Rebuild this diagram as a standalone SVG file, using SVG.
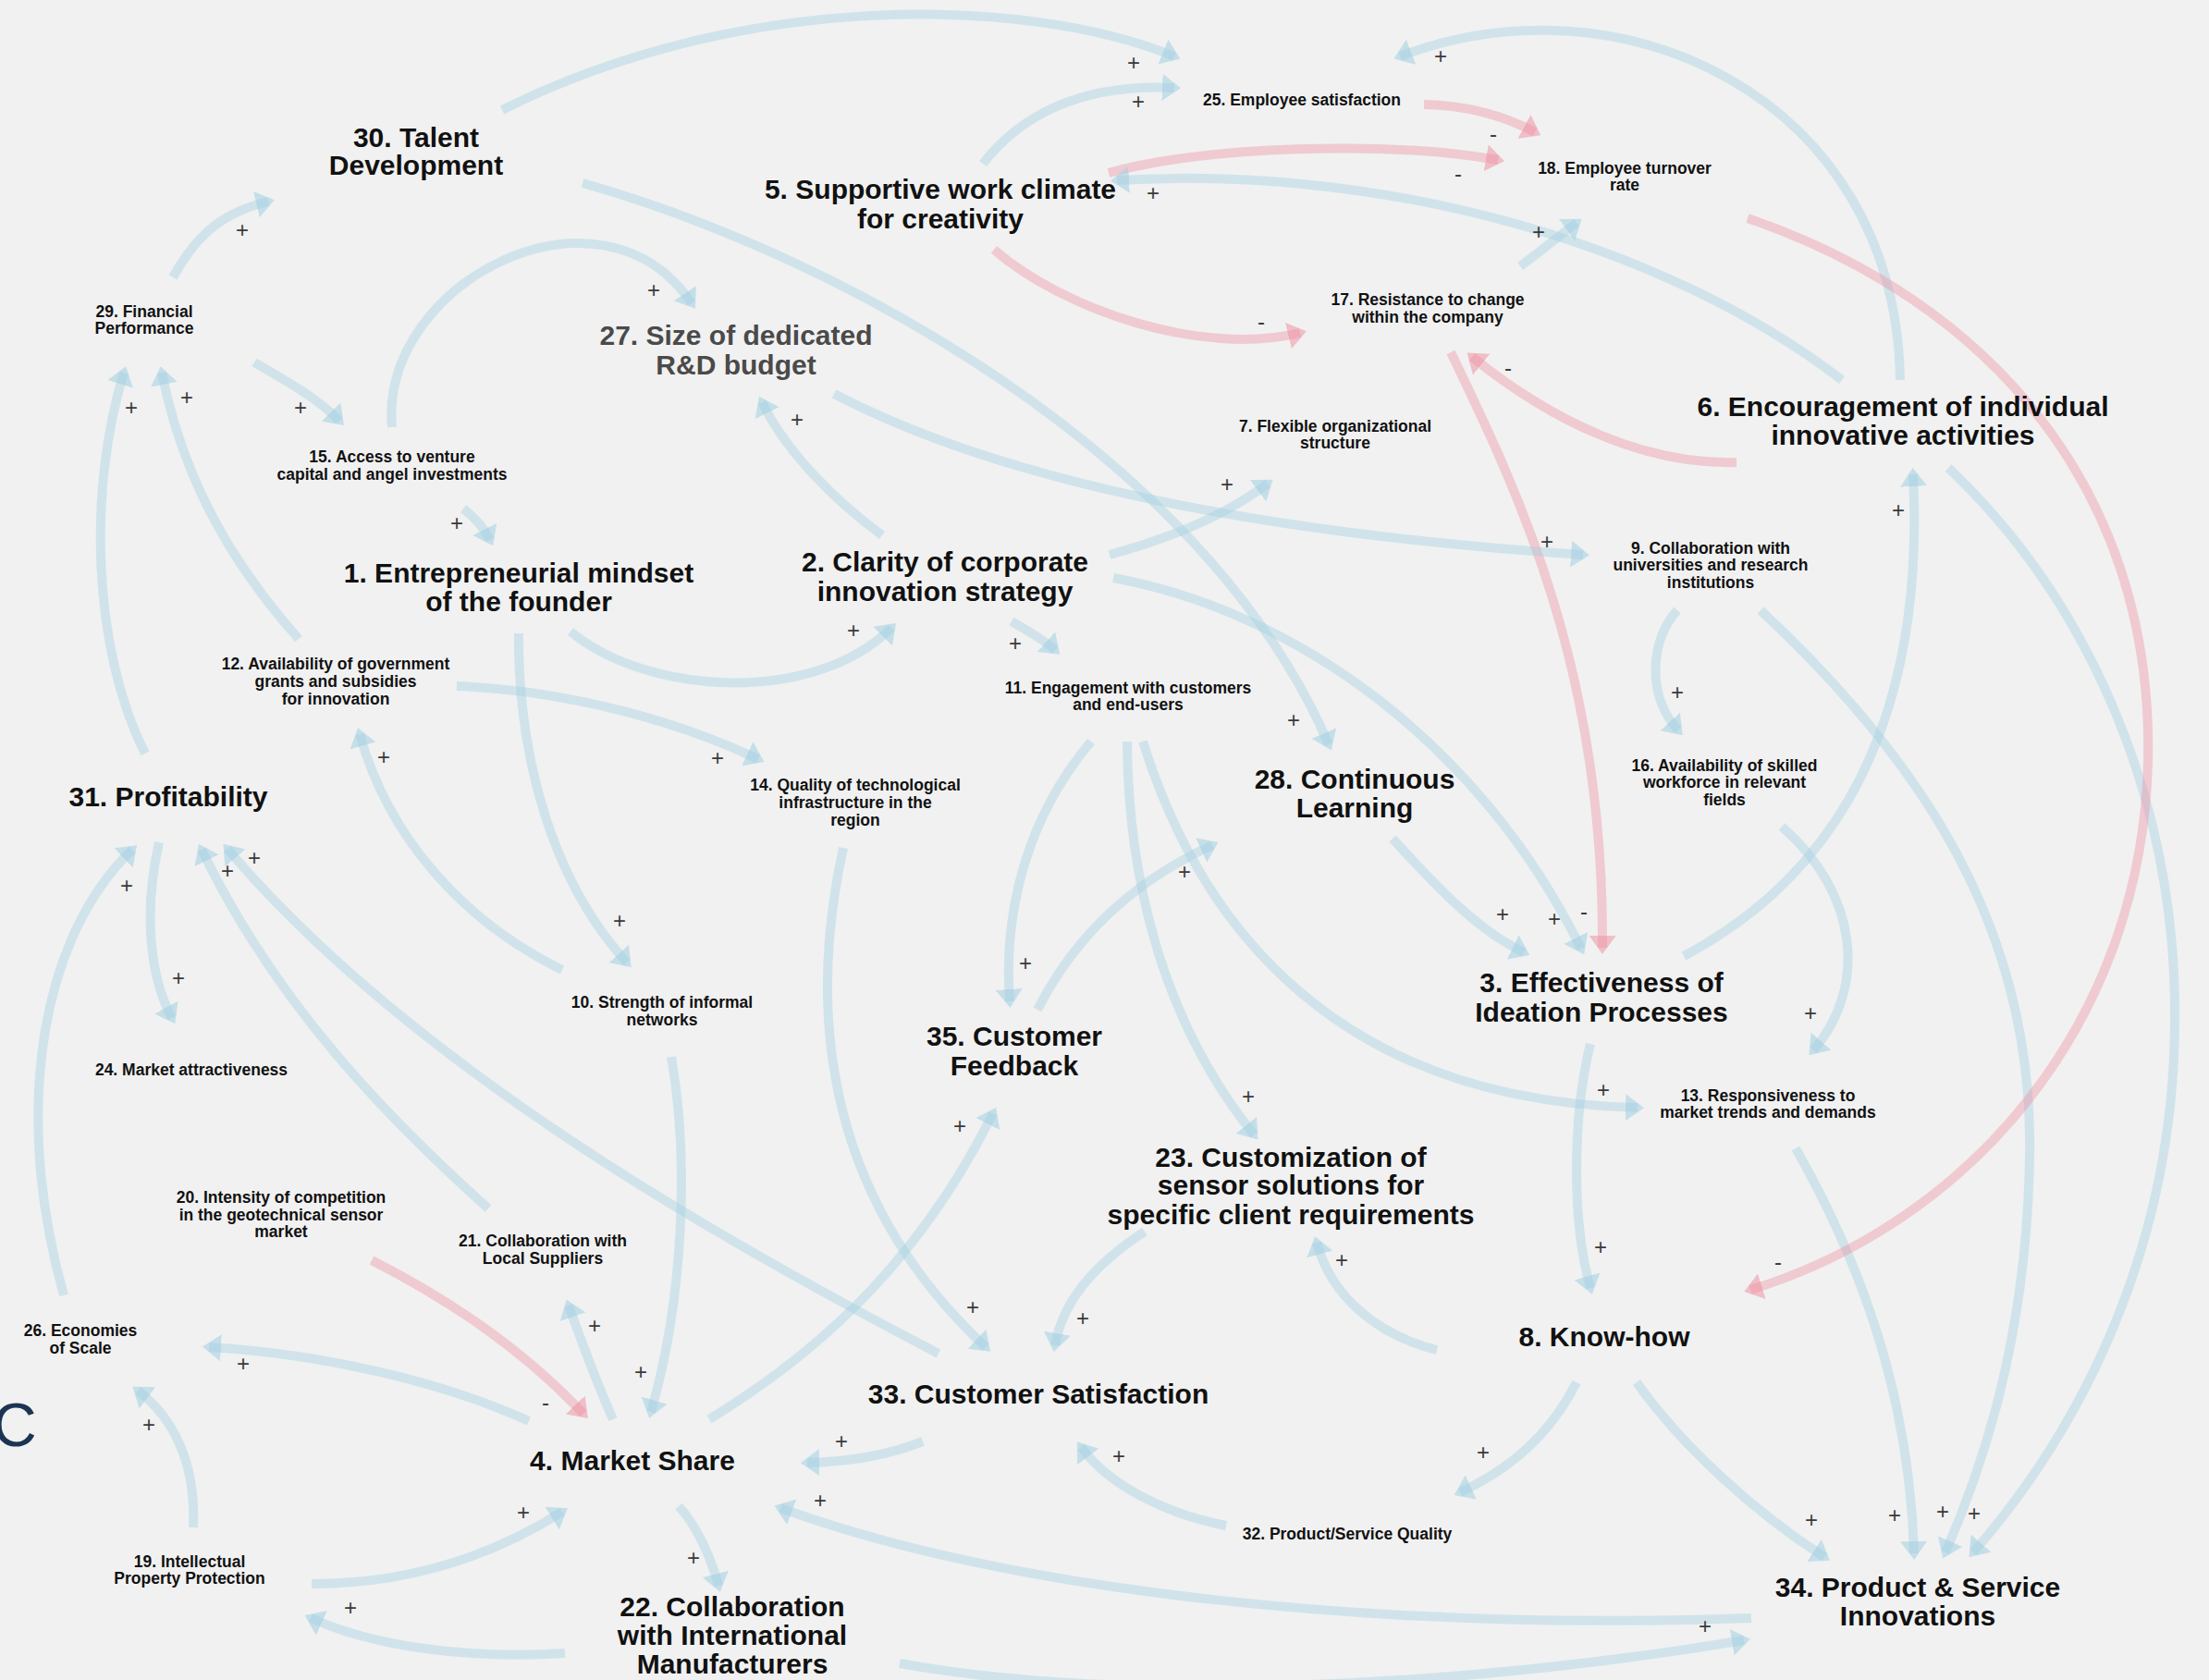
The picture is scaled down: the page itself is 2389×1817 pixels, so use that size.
<svg xmlns="http://www.w3.org/2000/svg" width="2389" height="1817" viewBox="0 0 2389 1817">
<defs>
<style>
.n{font-family:"Liberation Sans",Arial,sans-serif;font-weight:bold;fill:#111;text-anchor:middle}
.L{font-size:30px}
.S{font-size:17.5px}
.gray{fill:#4a4a4a}
.c path{fill:none;stroke-width:10}
.b{stroke:rgb(160,208,226);stroke-opacity:0.4;marker-end:url(#ab)}
.p{stroke:rgb(238,140,158);stroke-opacity:0.38;marker-end:url(#ap)}
.sg{font-family:"Liberation Sans",Arial,sans-serif;font-size:24px;fill:#3a3a3a;text-anchor:middle}
</style>
<marker id="ab" viewBox="0 0 20 29" refX="13" refY="14.5" markerWidth="20" markerHeight="29" markerUnits="userSpaceOnUse" orient="auto"><path d="M0,0 L20,14.5 L0,29 z" fill="rgb(160,208,226)" fill-opacity="0.55"/></marker>
<marker id="ap" viewBox="0 0 20 29" refX="13" refY="14.5" markerWidth="20" markerHeight="29" markerUnits="userSpaceOnUse" orient="auto"><path d="M0,0 L20,14.5 L0,29 z" fill="rgb(238,140,158)" fill-opacity="0.5"/></marker>
</defs>
<rect width="2389" height="1817" fill="#f1f1f1"/>
<text x="-8" y="1564" font-family="Liberation Sans, Arial, sans-serif" font-size="66" fill="#1b3452">C</text>

<g id="connectors" class="c">
<path class="b" d="M543,119 C800,-10 1110,-5 1270,61"/>
<path class="b" d="M1063,177 C1110,117 1180,91 1270,95"/>
<path class="p" d="M1540,113 C1590,114 1630,127 1660,143"/>
<path class="p" d="M1199,187 C1300,158 1500,152 1620,173"/>
<path class="b" d="M1992,411 C1800,264 1500,178 1208,195"/>
<path class="b" d="M1644,288 C1670,269 1690,252 1705,241"/>
<path class="b" d="M2055,411 C2050,102 1750,-30 1514,61"/>
<path class="p" d="M1075,270 C1150,335 1300,386 1406,360"/>
<path class="p" d="M1878,500 C1780,503 1680,457 1592,386"/>
<path class="p" d="M1569,381 C1640,529 1735,722 1733,1025"/>
<path class="b" d="M1821,1034 C1950,966 2085,824 2069,513"/>
<path class="b" d="M2107,506 C2250,641 2355,854 2352,1108 C2350,1352 2250,1546 2134,1679"/>
<path class="b" d="M1904,660 C2080,824 2200,1007 2195,1251 C2192,1454 2140,1596 2104,1679"/>
<path class="b" d="M1942,1242 C2010,1362 2065,1505 2070,1680"/>
<path class="b" d="M1770,1495 C1820,1566 1900,1637 1973,1684"/>
<path class="b" d="M1705,1495 C1680,1545 1640,1586 1579,1614"/>
<path class="b" d="M1554,1460 C1490,1444 1440,1403 1424,1344"/>
<path class="b" d="M1720,1129 C1700,1210 1700,1322 1720,1393"/>
<path class="b" d="M1236,802 C1300,1007 1450,1190 1771,1198"/>
<path class="b" d="M1219,802 C1220,956 1260,1108 1356,1227"/>
<path class="b" d="M1122,1092 C1160,1017 1220,956 1311,914"/>
<path class="b" d="M630,198 C900,274 1300,488 1437,805"/>
<path class="b" d="M1927,894 C2010,966 2020,1068 1961,1136"/>
<path class="b" d="M1814,660 C1785,691 1780,752 1815,790"/>
<path class="b" d="M902,426 C1100,529 1400,579 1712,600"/>
<path class="b" d="M1200,600 C1270,581 1330,554 1371,523"/>
<path class="b" d="M954,579 C900,539 850,488 824,435"/>
<path class="b" d="M617,683 C700,752 880,763 964,679"/>
<path class="b" d="M1094,672 C1115,684 1130,693 1141,703"/>
<path class="b" d="M494,742 C620,747 740,783 820,821"/>
<path class="b" d="M561,685 C560,824 600,956 678,1041"/>
<path class="b" d="M608,1049 C500,996 420,905 389,794"/>
<path class="b" d="M323,691 C260,620 200,529 175,403"/>
<path class="b" d="M157,815 C100,702 95,529 134,403"/>
<path class="b" d="M172,911 C155,986 162,1057 186,1101"/>
<path class="b" d="M69,1401 C10,1190 50,1007 143,919"/>
<path class="b" d="M528,1307 C420,1210 300,1088 218,919"/>
<path class="b" d="M1015,1464 C800,1352 450,1159 246,918"/>
<path class="p" d="M402,1363 C480,1403 560,1454 631,1529"/>
<path class="b" d="M663,1535 C645,1495 630,1454 615,1412"/>
<path class="b" d="M726,1143 C745,1251 740,1403 704,1527"/>
<path class="b" d="M767,1535 C900,1454 1000,1352 1074,1204"/>
<path class="b" d="M912,917 C870,1108 900,1302 1066,1457"/>
<path class="b" d="M1238,1332 C1190,1363 1150,1403 1141,1455"/>
<path class="b" d="M998,1559 C960,1574 920,1581 873,1582"/>
<path class="b" d="M1894,1750 C1500,1764 1100,1724 844,1631"/>
<path class="b" d="M973,1799 C1200,1840 1550,1830 1886,1774"/>
<path class="b" d="M734,1629 C755,1652 770,1688 777,1715"/>
<path class="b" d="M611,1788 C500,1795 400,1779 336,1750"/>
<path class="b" d="M337,1713 C450,1713 540,1678 608,1635"/>
<path class="b" d="M572,1537 C480,1495 350,1464 226,1457"/>
<path class="b" d="M209,1652 C212,1586 190,1535 149,1504"/>
<path class="b" d="M1180,802 C1110,885 1085,986 1092,1083"/>
<path class="b" d="M1204,625 C1400,661 1600,803 1710,1026"/>
<path class="b" d="M1506,907 C1560,966 1600,1007 1648,1030"/>
<path class="b" d="M187,300 C215,249 245,229 290,218"/>
<path class="b" d="M275,392 C310,412 345,432 367,455"/>
<path class="b" d="M501,550 C515,561 525,574 530,584"/>
<path class="b" d="M424,462 C410,305 650,183 748,328"/>
<path class="b" d="M1326,1650 C1260,1637 1200,1607 1169,1565"/>
<path class="p" d="M1890,236 C2150,325 2330,529 2323,824 C2316,1108 2130,1322 1893,1395"/>
</g>

<g id="signs" class="sg">
<text x="262" y="257">+</text>
<text x="325" y="449">+</text>
<text x="142" y="449">+</text>
<text x="202" y="438">+</text>
<text x="494" y="574">+</text>
<text x="707" y="322">+</text>
<text x="1226" y="76">+</text>
<text x="1231" y="118">+</text>
<text x="1558" y="69">+</text>
<text x="1615" y="153">-</text>
<text x="1577" y="196">-</text>
<text x="1247" y="217">+</text>
<text x="1664" y="259">+</text>
<text x="1364" y="356">-</text>
<text x="1631" y="406">-</text>
<text x="862" y="462">+</text>
<text x="1327" y="532">+</text>
<text x="1673" y="594">+</text>
<text x="2053" y="560">+</text>
<text x="1814" y="757">+</text>
<text x="1958" y="1104">+</text>
<text x="923" y="690">+</text>
<text x="1098" y="704">+</text>
<text x="776" y="828">+</text>
<text x="415" y="827">+</text>
<text x="670" y="1004">+</text>
<text x="1399" y="787">+</text>
<text x="1281" y="951">+</text>
<text x="1109" y="1050">+</text>
<text x="1625" y="997">+</text>
<text x="1681" y="1002">+</text>
<text x="1713" y="994">-</text>
<text x="1734" y="1187">+</text>
<text x="1350" y="1194">+</text>
<text x="1731" y="1357">+</text>
<text x="1451" y="1371">+</text>
<text x="1604" y="1579">+</text>
<text x="1923" y="1373">-</text>
<text x="1959" y="1652">+</text>
<text x="2049" y="1647">+</text>
<text x="2101" y="1643">+</text>
<text x="2135" y="1645">+</text>
<text x="1844" y="1767">+</text>
<text x="137" y="966">+</text>
<text x="246" y="950">+</text>
<text x="275" y="936">+</text>
<text x="193" y="1066">+</text>
<text x="590" y="1525">-</text>
<text x="643" y="1442">+</text>
<text x="693" y="1492">+</text>
<text x="1038" y="1226">+</text>
<text x="1052" y="1422">+</text>
<text x="1171" y="1434">+</text>
<text x="910" y="1567">+</text>
<text x="887" y="1631">+</text>
<text x="750" y="1693">+</text>
<text x="379" y="1747">+</text>
<text x="566" y="1644">+</text>
<text x="263" y="1483">+</text>
<text x="161" y="1549">+</text>
<text x="1210" y="1583">+</text>
</g>

<g id="n30" class="n L"><text x="450" y="159">30. Talent</text><text x="450" y="189">Development</text></g>
<g id="n5" class="n L"><text x="1017" y="215">5. Supportive work climate</text><text x="1017" y="247">for creativity</text></g>
<g id="n27" class="n L gray"><text x="796" y="373">27. Size of dedicated</text><text x="796" y="405">R&amp;D budget</text></g>
<g id="n1" class="n L"><text x="561" y="630">1. Entrepreneurial mindset</text><text x="561" y="661">of the founder</text></g>
<g id="n2" class="n L"><text x="1022" y="618">2. Clarity of corporate</text><text x="1022" y="650">innovation strategy</text></g>
<g id="n28" class="n L"><text x="1465" y="853">28. Continuous</text><text x="1465" y="884">Learning</text></g>
<g id="n3" class="n L"><text x="1732" y="1073">3. Effectiveness of</text><text x="1732" y="1105">Ideation Processes</text></g>
<g id="n6" class="n L"><text x="2058" y="450">6. Encouragement of individual</text><text x="2058" y="481">innovative activities</text></g>
<g id="n31" class="n L"><text x="182" y="872">31. Profitability</text></g>
<g id="n35" class="n L"><text x="1097" y="1131">35. Customer</text><text x="1097" y="1163">Feedback</text></g>
<g id="n23" class="n L"><text x="1396" y="1262">23. Customization of</text><text x="1396" y="1292">sensor solutions for</text><text x="1396" y="1324">specific client requirements</text></g>
<g id="n8" class="n L"><text x="1735" y="1456">8. Know-how</text></g>
<g id="n33" class="n L"><text x="1123" y="1518">33. Customer Satisfaction</text></g>
<g id="n4" class="n L"><text x="684" y="1590">4. Market Share</text></g>
<g id="n22" class="n L"><text x="792" y="1748">22. Collaboration</text><text x="792" y="1779">with International</text><text x="792" y="1810">Manufacturers</text></g>
<g id="n34" class="n L"><text x="2074" y="1727">34. Product &amp; Service</text><text x="2074" y="1758">Innovations</text></g>

<g id="n25" class="n S"><text x="1408" y="114">25. Employee satisfaction</text></g>
<g id="n18" class="n S"><text x="1757" y="188">18. Employee turnover</text><text x="1757" y="206">rate</text></g>
<g id="n17" class="n S"><text x="1544" y="330">17. Resistance to change</text><text x="1544" y="349">within the company</text></g>
<g id="n7" class="n S"><text x="1444" y="467">7. Flexible organizational</text><text x="1444" y="485">structure</text></g>
<g id="n9" class="n S"><text x="1850" y="599">9. Collaboration with</text><text x="1850" y="617">universities and research</text><text x="1850" y="636">institutions</text></g>
<g id="n16" class="n S"><text x="1865" y="834">16. Availability of skilled</text><text x="1865" y="852">workforce in relevant</text><text x="1865" y="871">fields</text></g>
<g id="n11" class="n S"><text x="1220" y="750">11. Engagement with customers</text><text x="1220" y="768">and end-users</text></g>
<g id="n12" class="n S"><text x="363" y="724">12. Availability of government</text><text x="363" y="743">grants and subsidies</text><text x="363" y="762">for innovation</text></g>
<g id="n14" class="n S"><text x="925" y="855">14. Quality of technological</text><text x="925" y="874">infrastructure in the</text><text x="925" y="893">region</text></g>
<g id="n10" class="n S"><text x="716" y="1090">10. Strength of informal</text><text x="716" y="1109">networks</text></g>
<g id="n24" class="n S"><text x="207" y="1163">24. Market attractiveness</text></g>
<g id="n13" class="n S"><text x="1912" y="1191">13. Responsiveness to</text><text x="1912" y="1209">market trends and demands</text></g>
<g id="n20" class="n S"><text x="304" y="1301">20. Intensity of competition</text><text x="304" y="1320">in the geotechnical sensor</text><text x="304" y="1338">market</text></g>
<g id="n21" class="n S"><text x="587" y="1348">21. Collaboration with</text><text x="587" y="1367">Local Suppliers</text></g>
<g id="n26" class="n S"><text x="87" y="1445">26. Economies</text><text x="87" y="1464">of Scale</text></g>
<g id="n19" class="n S"><text x="205" y="1695">19. Intellectual</text><text x="205" y="1713">Property Protection</text></g>
<g id="n32" class="n S"><text x="1457" y="1665">32. Product/Service Quality</text></g>
<g id="n29" class="n S"><text x="156" y="343">29. Financial</text><text x="156" y="361">Performance</text></g>
<g id="n15" class="n S"><text x="424" y="500">15. Access to venture</text><text x="424" y="519">capital and angel investments</text></g>
</svg>
